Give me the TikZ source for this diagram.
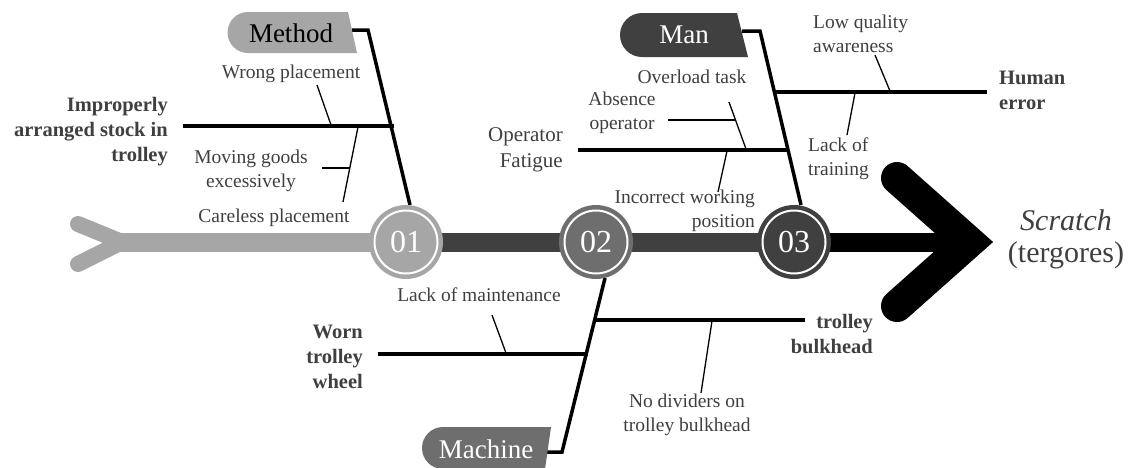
\documentclass[tikz,border=0pt]{standalone}
\usepackage{fontspec}
\setmainfont{LiberationSerif}[Extension=.ttf,UprightFont=*-Regular,BoldFont=*-Bold,ItalicFont=*-Italic,BoldItalicFont=*-BoldItalic]
\definecolor{lgray}{HTML}{A6A6A6}
\definecolor{mgray}{HTML}{6E6E6E}
\definecolor{dgray}{HTML}{404040}
\definecolor{tgray}{HTML}{3F3F3F}

\tikzset{
  bone/.style={line width=3.5pt},
  tick/.style={line width=1.3pt},
  lbl/.style={text=tgray, inner sep=0pt, align=center, font=\fontsize{19.5}{24}\selectfont},
  effect/.style={lbl, font=\fontsize{20.5}{25}\selectfont\bfseries},
  num/.style={circle, minimum size=74pt, inner sep=0pt, text=white, font=\fontsize{32}{32}\selectfont},
  tagtext/.style={inner sep=0pt, font=\fontsize{27}{27}\selectfont}
}

\begin{document}
\begin{tikzpicture}[x=1pt,y=-1pt]
\useasboundingbox (0,0) rectangle (1132,467);

\coordinate (tail) at (122,242);
\coordinate (ta) at (78,224);
\coordinate (tb) at (78,264);
\coordinate (c1) at (406,242);
\coordinate (c2) at (596,242);
\coordinate (c3) at (794,242);
\coordinate (tip) at (969,242);
\coordinate (ha) at (897,178);
\coordinate (hb) at (897,306);

% kosti
\coordinate (m0) at (352,30);
\coordinate (m1) at (368,30);
\coordinate (m2) at (410,205);
\coordinate (n0) at (742,31);
\coordinate (n1) at (760,31);
\coordinate (n2) at (801,205);
\coordinate (k0) at (545,452);
\coordinate (k1) at (562,452);
\coordinate (k2) at (605,278);

% veje
\coordinate (b1a) at (183,126);
\coordinate (b1b) at (394,126);
\coordinate (b2a) at (774,92);
\coordinate (b2b) at (987,92);
\coordinate (b3a) at (578,150);
\coordinate (b3b) at (789,150);
\coordinate (b4a) at (378,354);
\coordinate (b4b) at (588,354);
\coordinate (b5a) at (595,320);
\coordinate (b5b) at (805,320);

% pomozne crtice
\coordinate (s1a) at (317,85);
\coordinate (s1b) at (331,125);
\coordinate (s2a) at (358,127);
\coordinate (s2b) at (343,202);
\coordinate (s3a) at (322,168);
\coordinate (s3b) at (350,168);
\coordinate (s4a) at (875,55);
\coordinate (s4b) at (890,91);
\coordinate (s5a) at (855,93);
\coordinate (s5b) at (847,135);
\coordinate (s6a) at (729,102);
\coordinate (s6b) at (746,149);
\coordinate (s7a) at (668,120);
\coordinate (s7b) at (736,120);
\coordinate (s8a) at (727,151);
\coordinate (s8b) at (718,192);
\coordinate (s9a) at (492,315);
\coordinate (s9b) at (506,353);
\coordinate (s10a) at (712,321);
\coordinate (s10b) at (701,393);

% hrbtenica
\draw[lgray,line width=16pt,line cap=round,line join=round] (ta)--(tail)--(tb);
\draw[lgray,line width=19pt,line cap=round] (tail)--(c1);
\draw[dgray,line width=19pt] (c1)--(c3);
\draw[black,line width=19pt] (c3)--(tip);
\draw[black,line width=32pt,line cap=round,miter limit=4] (ha)--(tip)--(hb);

\draw[bone] (m0)--(m1)--(m2);
\draw[bone] (n0)--(n1)--(n2);
\draw[bone] (k0)--(k1)--(k2);

\foreach \a/\b in {b1a/b1b,b2a/b2b,b3a/b3b,b4a/b4b,b5a/b5b}
\draw[bone] (\a)--(\b);

\foreach \a/\b in {s1a/s1b,s2a/s2b,s3a/s3b,s4a/s4b,s5a/s5b,s6a/s6b,s7a/s7b,s8a/s8b,s9a/s9b,s10a/s10b}
\draw[tick] (\a)--(\b);

\foreach \c/\col/\t in {c1/lgray/01,c2/mgray/02,c3/dgray/03}{
\node[num,fill=\col] (n\c) at (\c) {\t};
\draw[white,line width=2pt] (\c) circle (31.5pt);
}

% oznake
\fill[lgray] (348,12)--(248,12) arc[start angle=90,end angle=270,radius=20.5pt]--(357,53)--cycle;
\fill[dgray] (737,13)--(642,13) arc[start angle=90,end angle=270,radius=22pt]--(748,57)--cycle;
\fill[mgray] (551,427)--(443,427) arc[start angle=90,end angle=270,radius=21pt]--(545,469)--cycle;
\node[tagtext,text=black] (method) at (291,33) {Method};
\node[tagtext,text=white] (man) at (684,35) {Man};
\node[tagtext,text=white] (machine) at (486,449) {Machine};

\node[lbl] (wrong) at (291,74) {Wrong placement};
\node[effect,anchor=east,align=right] (improper) at (168,132) {Improperly\\arranged stock in\\trolley};
\node[lbl] (moving) at (251,171) {Moving goods\\excessively};
\node[lbl] (careless) at (274,218) {Careless placement};
\node[lbl,anchor=east,align=right,font=\fontsize{21}{26}\selectfont] (fatigue) at (563,150) {Operator\\Fatigue};
\node[lbl] (overload) at (692,77) {Overload task};
\node[lbl] (absence) at (622,113) {Absence\\operator};
\node[lbl,anchor=east,align=right] (incorrect) at (755,211) {Incorrect working\\position};
\node[lbl,anchor=west,align=left] (lowq) at (813,34) {Low quality\\awareness};
\node[lbl,anchor=west,align=left] (training) at (808,159) {Lack of\\training};
\node[effect,anchor=west,align=left] (human) at (999,90) {Human\\error};
\node[lbl] (maint) at (479,295) {Lack of maintenance};
\node[effect,anchor=east,align=right] (wheel) at (363,357) {Worn\\trolley\\wheel};
\node[lbl] (divider) at (687,415) {No dividers on\\trolley bulkhead};
\node[effect,anchor=east,align=right] (bulkhead) at (873,334) {trolley\\bulkhead};
\node[lbl,font=\fontsize{30}{32}\selectfont] (scratch) at (1066,239) {\textit{Scratch}\\(tergores)};
\end{tikzpicture}
\end{document}
